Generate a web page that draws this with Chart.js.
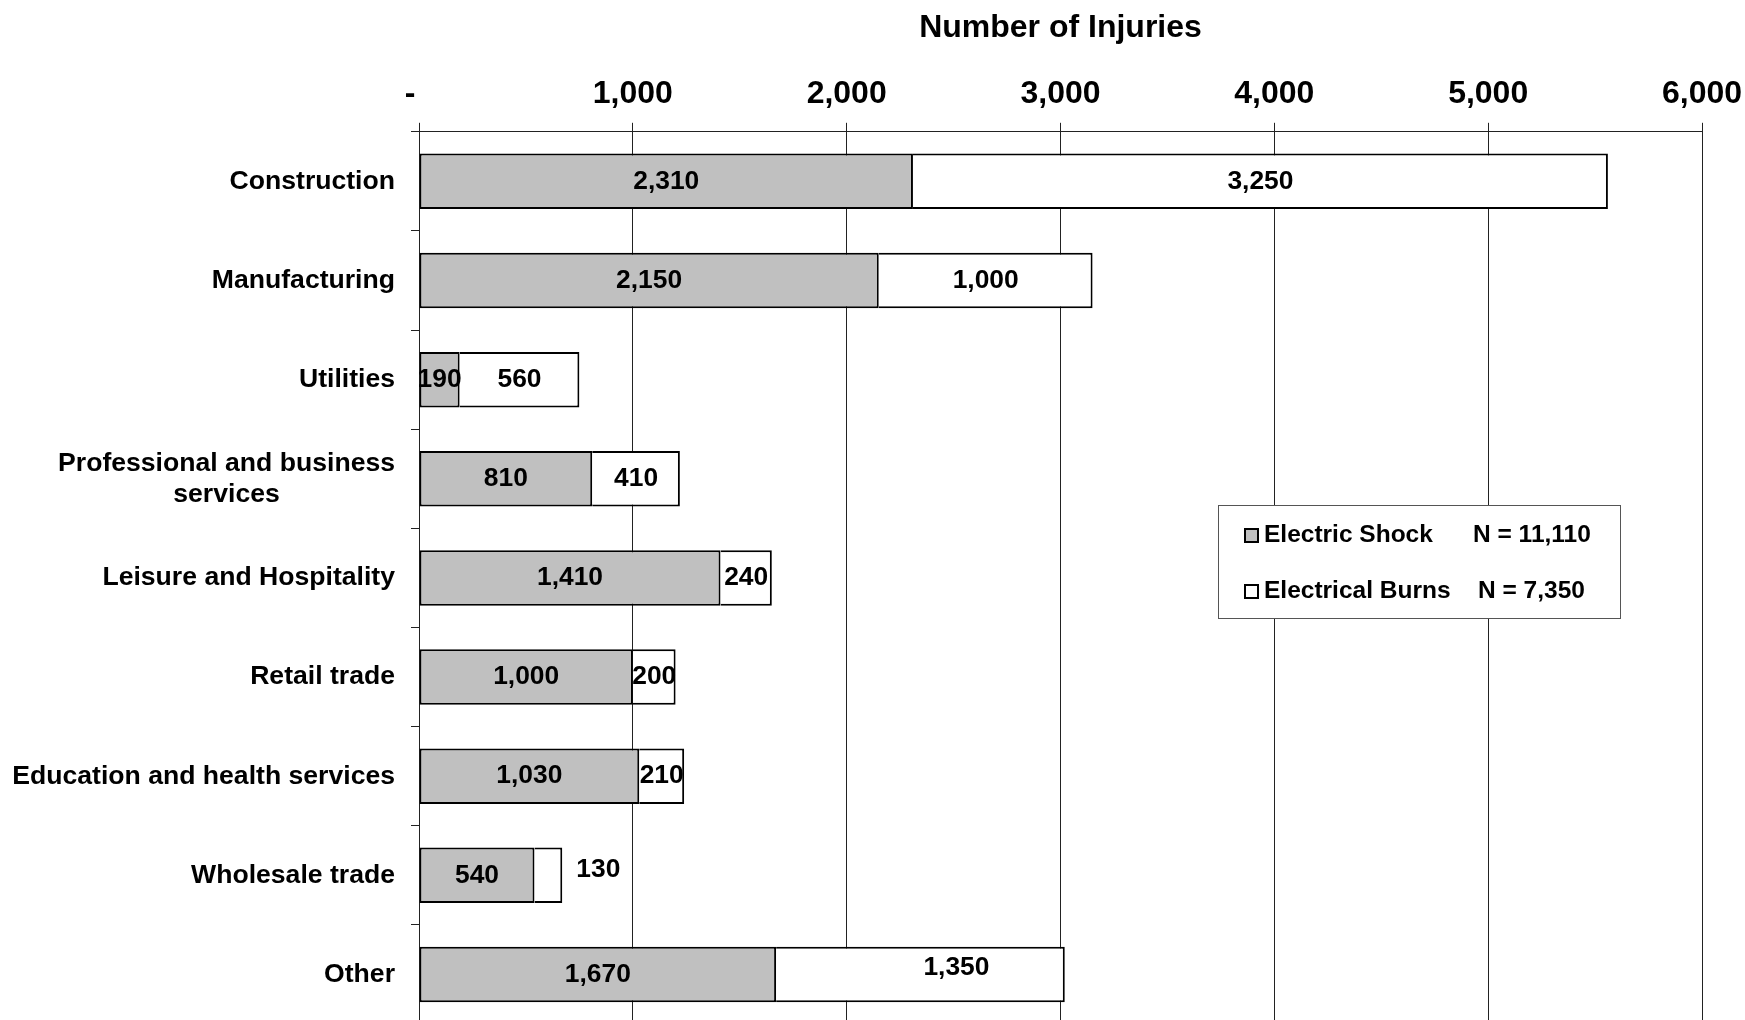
<!DOCTYPE html>
<html>
<head>
<meta charset="utf-8">
<title>Number of Injuries</title>
<script src="https://cdn.jsdelivr.net/npm/chart.js@4.4.1/dist/chart.umd.min.js"></script>
<style>
    html, body { margin: 0; padding: 0; background: #fff; overflow: hidden; }
    #wrap { position: relative; width: 1745px; height: 1024px; }
</style>
</head>
<body>
<div id="wrap"><canvas id="injuryChart"></canvas></div>
<script>
    // ============================================
    // DATA
    // ============================================
    const industries = [
        'Construction',
        'Manufacturing',
        'Utilities',
        ['Professional and business', 'services'],
        'Leisure and Hospitality',
        'Retail trade',
        'Education and health services',
        'Wholesale trade',
        'Other'
    ];
    const electricShock = [2310, 2150, 190, 810, 1410, 1000, 1030, 540, 1670];
    const electricalBurns = [3250, 1000, 560, 410, 240, 200, 210, 130, 1350];
    const seriesNames = ['Electric Shock', 'Electrical Burns'];
    const xTicks = [0, 1000, 2000, 3000, 4000, 5000, 6000];

    const FONT = '"Liberation Sans", Arial, Helvetica, sans-serif';

    // a couple of value labels were moved by hand in the original
    const labelNudge = {
        '1:7': { dx: 50, dy: -6 },
        '1:8': { dx: 36, dy: -7 }
    };

    // ============================================
    // PLUGINS
    // ============================================
    const categoryLabels = {
        id: 'categoryLabels',
        afterDraw(chart) {
            const ctx = chart.ctx;
            const yScale = chart.scales.y;
            const right = chart.chartArea.left - 24;
            ctx.save();
            ctx.font = 'bold 26.6px ' + FONT;
            ctx.fillStyle = '#000';
            ctx.textBaseline = 'middle';
            industries.forEach(function(label, i) {
                const cy = yScale.getPixelForValue(i);
                const lines = Array.isArray(label) ? label : [label];
                const widest = Math.max.apply(null, lines.map(l => ctx.measureText(l).width));
                const cx = right - widest / 2;
                const lh = 31;
                const top = cy - (lines.length - 1) * lh / 2;
                ctx.textAlign = 'center';
                lines.forEach(function(line, k) {
                    ctx.fillText(line, cx, top + k * lh);
                });
            });
            ctx.restore();
        }
    };

    const valueLabels = {
        id: 'valueLabels',
        afterDatasetsDraw(chart) {
            const ctx = chart.ctx;
            ctx.save();
            ctx.font = 'bold 26.4px ' + FONT;
            ctx.fillStyle = '#000';
            ctx.textAlign = 'center';
            ctx.textBaseline = 'middle';
            chart.data.datasets.forEach(function(ds, d) {
                chart.getDatasetMeta(d).data.forEach(function(bar, i) {
                    const nudge = labelNudge[d + ':' + i] || { dx: 0, dy: 0 };
                    const x = (bar.x + bar.base) / 2 + nudge.dx;
                    ctx.fillText(ds.data[i].toLocaleString('en-US'), x, bar.y + nudge.dy);
                });
            });
            ctx.restore();
        }
    };

    const boxLegend = {
        id: 'boxLegend',
        afterDraw(chart) {
            const ctx = chart.ctx;
            const totals = [electricShock, electricalBurns].map(a => a.reduce((s, v) => s + v, 0));
            const fills = ['#C0C0C0', '#FFFFFF'];
            const rows = [535, 591];
            const nX = [1473, 1478];
            ctx.save();
            ctx.fillStyle = '#fff';
            ctx.fillRect(1218, 505, 402, 113);
            ctx.strokeStyle = '#555';
            ctx.lineWidth = 1;
            ctx.strokeRect(1218.5, 505.5, 402, 113);
            ctx.font = 'bold 24.5px ' + FONT;
            ctx.textBaseline = 'middle';
            ctx.textAlign = 'left';
            seriesNames.forEach(function(name, i) {
                const y = rows[i];
                ctx.fillStyle = fills[i];
                ctx.fillRect(1245, y - 6, 13, 13);
                ctx.strokeStyle = '#000';
                ctx.lineWidth = 2;
                ctx.strokeRect(1245, y - 6, 13, 13);
                ctx.fillStyle = '#000';
                ctx.fillText(name, 1264, y);
                ctx.fillText('N = ' + totals[i].toLocaleString('en-US'), nX[i], y);
            });
            ctx.restore();
        }
    };

    // ============================================
    // CHART
    // ============================================
    new Chart(document.getElementById('injuryChart'), {
        type: 'bar',
        data: {
            labels: industries,
            datasets: [{
                label: seriesNames[0],
                data: electricShock,
                backgroundColor: '#C0C0C0',
                borderColor: '#000',
                borderWidth: 2,
                borderSkipped: false,
                barPercentage: 0.56,
                categoryPercentage: 1
            }, {
                label: seriesNames[1],
                data: electricalBurns,
                backgroundColor: '#FFFFFF',
                borderColor: '#000',
                borderWidth: 2,
                borderSkipped: 'start',   // shares the edge with the shock bar
                barPercentage: 0.56,
                categoryPercentage: 1
            }]
        },
        options: {
            indexAxis: 'y',
            responsive: true,
            maintainAspectRatio: false,
            animation: false,
            layout: { padding: { left: 411, right: 43, top: 0, bottom: 0 } },
            plugins: {
                legend: { display: false },
                tooltip: { enabled: false }
            },
            scales: {
                x: {
                    position: 'top',
                    stacked: true,
                    min: xTicks[0],
                    max: xTicks[xTicks.length - 1],
                    afterBuildTicks: function(axis) {
                        axis.ticks = xTicks.map(v => ({ value: v }));
                    },
                    // let the outer tick labels hang into the page margin
                    afterFit: function(axis) {
                        axis.paddingLeft = 0;
                        axis.paddingRight = 0;
                    },
                    ticks: {
                        padding: 9,
                        color: '#000',
                        font: { family: FONT, size: 32, weight: 'bold' },
                        callback: function(value) {
                            return value === 0 ? '-  ' : value.toLocaleString('en-US');
                        }
                    },
                    grid: { color: '#222', lineWidth: 1, tickLength: 9 },
                    border: { color: '#222', width: 1 },
                    title: {
                        display: true,
                        text: 'Number of Injuries',
                        color: '#000',
                        font: { family: FONT, size: 32, weight: 'bold' },
                        padding: { top: 9, bottom: 19 }
                    }
                },
                y: {
                    stacked: true,
                    ticks: { display: false },
                    grid: { drawOnChartArea: false, tickLength: 8, color: '#222', offset: true },
                    border: { color: '#222', width: 1 }
                }
            }
        },
        plugins: [categoryLabels, valueLabels, boxLegend]
    });
</script>
</body>
</html>
